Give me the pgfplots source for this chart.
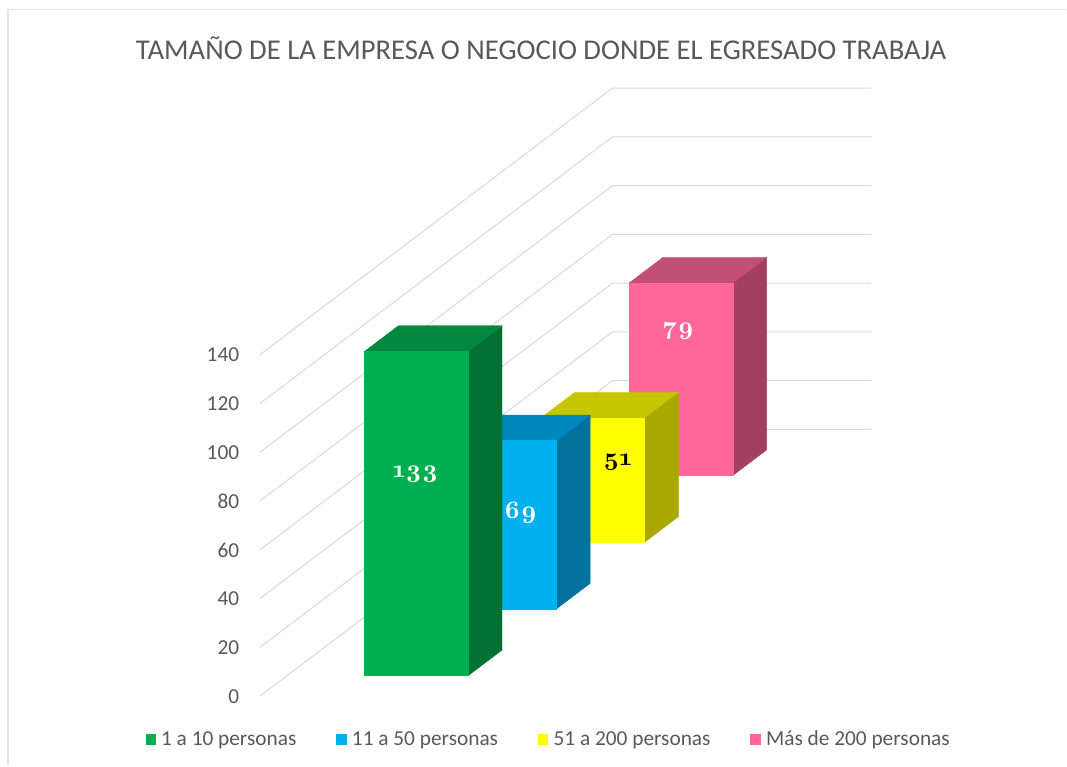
\documentclass[border=0pt]{standalone}
\usepackage{fontspec}
\setmainfont{Carlito}
\newfontfamily\labfont{lmroman10-bold.otf}[Numbers=OldStyle]
\usepackage{pgfplots}
\pgfplotsset{compat=1.18}
\definecolor{txt}{HTML}{595959}
\definecolor{gridc}{HTML}{D9D9D9}
\definecolor{gF}{HTML}{00B050}\definecolor{gT}{HTML}{00883E}\definecolor{gS}{HTML}{007033}
\definecolor{bF}{HTML}{00B0F0}\definecolor{bT}{HTML}{0088BD}\definecolor{bS}{HTML}{00729D}
\definecolor{yF}{HTML}{FFFF00}\definecolor{yT}{HTML}{C6C600}\definecolor{yS}{HTML}{A8A800}
\definecolor{pF}{HTML}{FF6699}\definecolor{pT}{HTML}{C24F75}\definecolor{pS}{HTML}{A34061}
% #1 front, #2 top, #3 side, #4 depth start, #5 depth end, #6 value
\newcommand\cuboid[6]{%
 \addplot3[fill=#3,draw=#3,line width=0.3pt,forget plot] coordinates {(0.7,#4,0) (0.7,#5,0) (0.7,#5,#6) (0.7,#4,#6)} -- cycle;
 \addplot3[fill=#2,draw=#2,line width=0.3pt,forget plot] coordinates {(0.3,#4,#6) (0.7,#4,#6) (0.7,#5,#6) (0.3,#5,#6)} -- cycle;
 \addplot3[fill=#1,draw=#1,line width=0.3pt,forget plot] coordinates {(0.3,#4,0) (0.7,#4,0) (0.7,#4,#6) (0.3,#4,#6)} -- cycle;
}
\begin{document}
\begin{tikzpicture}
\fill[white] (0,0) rectangle (800.25pt,574.5pt);
\draw[gridc!70, line width=1.1pt] (6pt,0pt) -- (6pt,567.5pt) -- (800.25pt,567.5pt);
\node[anchor=base,text=txt,font=\fontsize{21.5}{25}\selectfont] at (406.1pt,529.5pt)
  {TAMAÑO DE LA EMPRESA O NEGOCIO DONDE EL EGRESADO TRABAJA};
\coordinate (legpos) at (216pt,-32.5pt);
\begin{axis}[
  x={(194.25pt,0pt)}, y={(66.19pt,50.06pt)}, z={(0pt,1.83pt)},
  xmin=0, xmax=1, ymin=0, ymax=4, zmin=0, zmax=140,
  hide axis, clip=false, no markers,
  anchor=origin, at={(195pt,52pt)},
  legend columns=4,
  legend image code/.code={\path[#1,draw=none] (0pt,-3.9pt) rectangle (7.8pt,3.9pt);},
  legend style={draw=none, fill=none, at={(legpos)}, anchor=center,
    font=\fontsize{16}{19}\selectfont, text=txt,
    nodes={inner sep=0pt},
    /tikz/every odd column/.append style={column sep=3.9pt},
    /tikz/every even column/.append style={column sep=30pt}},
]
\pgfplotsinvokeforeach{0,20,40,60,80,100,120,140}{
  \addplot3[color=gridc, line width=0.75pt, forget plot] coordinates {(0,0,#1) (0,4,#1) (1,4,#1)};
  \node[anchor=east, text=txt, font=\fontsize{16}{19}\selectfont, xshift=-12pt] at (axis cs:0,0,#1) {#1};
}
\cuboid{pF}{pT}{pS}{3.308}{3.692}{79}
\cuboid{yF}{yT}{yS}{2.308}{2.692}{51}
\cuboid{bF}{bT}{bS}{1.308}{1.692}{69}
\cuboid{gF}{gT}{gS}{0.308}{0.692}{133}
\node[text=white, font=\labfont\fontsize{19}{20}\selectfont] at (axis cs:0.497,0.308,82.4) {133};
\node[text=white, font=\labfont\fontsize{19}{20}\selectfont] at (axis cs:0.562,1.308,39.5) {69};
\node[text=black, font=\labfont\fontsize{19}{20}\selectfont] at (axis cs:0.596,2.308,33) {51};
\node[text=white, font=\labfont\fontsize{19}{20}\selectfont] at (axis cs:0.490,3.308,59.4) {79};
\addlegendimage{fill=gF}\addlegendentry{1 a 10 personas}
\addlegendimage{fill=bF}\addlegendentry{11 a 50 personas}
\addlegendimage{fill=yF}\addlegendentry{51 a 200 personas}
\addlegendimage{fill=pF}\addlegendentry{Más de 200 personas}
\end{axis}
\end{tikzpicture}
\end{document}
